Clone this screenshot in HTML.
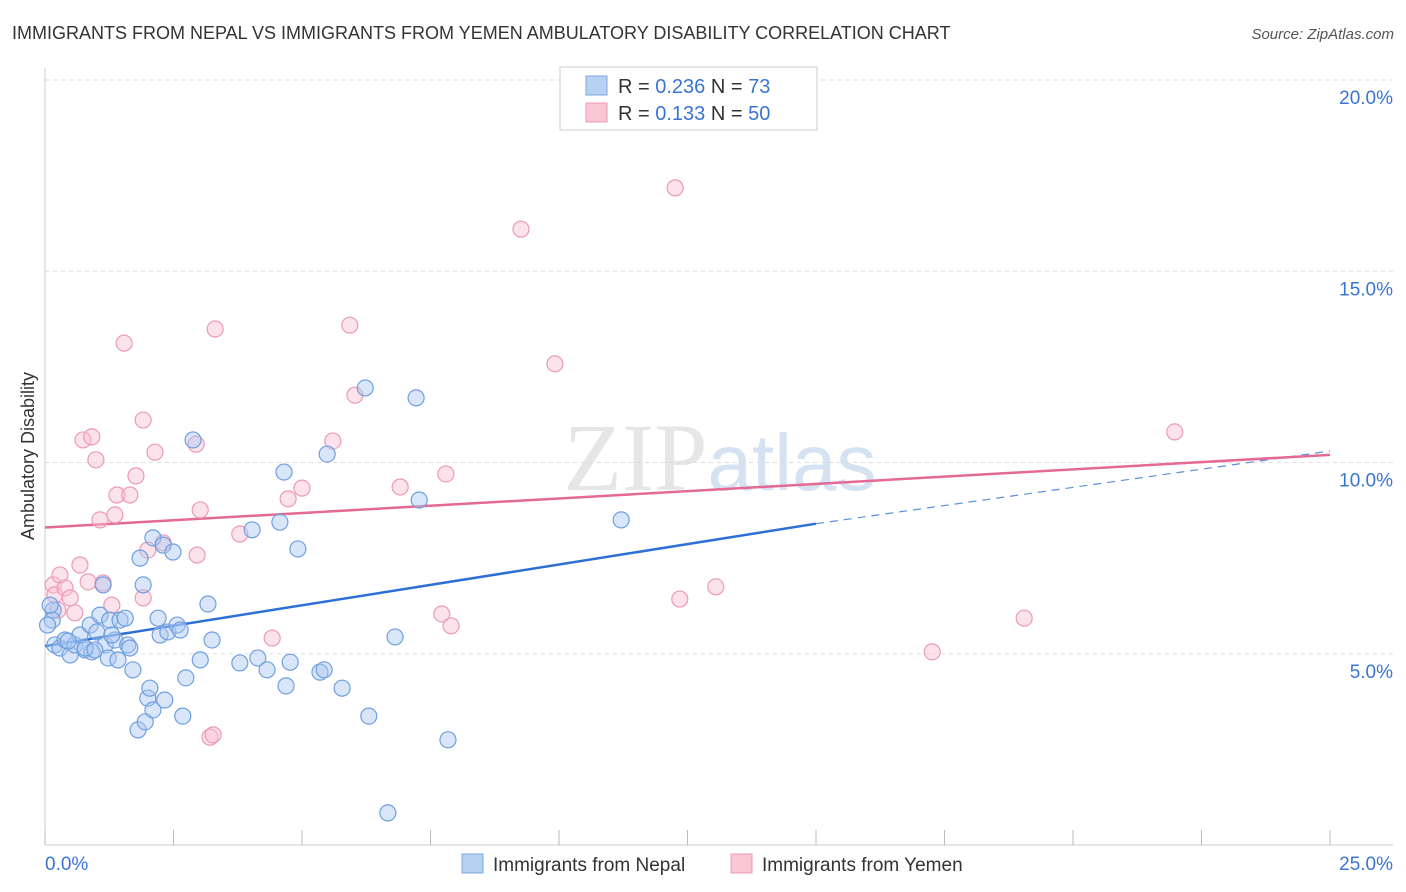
<!DOCTYPE html>
<html><head><meta charset="utf-8"><style>
body{margin:0;background:#fff;font-family:"Liberation Sans",sans-serif}
svg{display:block}
</style></head><body>
<svg width="1406" height="892" viewBox="0 0 1406 892">
<text x="12" y="39" font-size="18" fill="#333">IMMIGRANTS FROM NEPAL VS IMMIGRANTS FROM YEMEN AMBULATORY DISABILITY CORRELATION CHART</text>
<text x="1394" y="39" font-size="15" fill="#555" font-style="italic" text-anchor="end">Source: ZipAtlas.com</text>
<text x="720" y="490" font-size="96" fill="#e6e6e6" text-anchor="middle" font-family="Liberation Serif,serif">ZIP<tspan fill="#d5e2f2" font-family="Liberation Sans,sans-serif" font-size="80">atlas</tspan></text>
<g id="grid"></g>
<g id="axes"></g>
<g id="lines"></g>
<g id="pts"></g>
<text transform="translate(34,456) rotate(-90)" font-size="18" fill="#333" text-anchor="middle">Ambulatory Disability</text>
<g>
<rect x="560" y="67" width="257" height="63" fill="#fff" stroke="#ccc"/>
<rect x="586" y="76" width="21" height="19" fill="#b8d1f3" stroke="#7ea7e0"/>
<rect x="586" y="103" width="21" height="19" fill="#f9c6d5" stroke="#ec9ab4"/>
<text x="618" y="93" font-size="20" fill="#333">R = <tspan fill="#3a75d4">0.236</tspan>   N = <tspan fill="#3a75d4">73</tspan></text>
<text x="618" y="120" font-size="20" fill="#333">R =  <tspan fill="#3a75d4">0.133</tspan>   N = <tspan fill="#3a75d4">50</tspan></text>
</g>
<g>
<rect x="462" y="854" width="21" height="19" fill="#b8d1f3" stroke="#7ea7e0"/>
<text x="493" y="871" font-size="19" fill="#333">Immigrants from Nepal</text>
<rect x="731" y="854" width="21" height="19" fill="#f9c6d5" stroke="#ec9ab4"/>
<text x="762" y="871" font-size="19" fill="#333">Immigrants from Yemen</text>
</g>
</svg>
<script>
const yTicks=[5,10,15,20];
const yTickLabels=["5.0%","10.0%","15.0%","20.0%"];
const xTickVals=[0,2.5,5,7.5,10,12.5,15,17.5,20,22.5,25];
const nepalX=[.16,.14,.19,.29,.39,.49,.58,.68,.78,.88,.91,1.01,1.07,1.13,1.17,1.23,1.26,1.36,1.42,1.46,1.56,1.61,1.71,1.81,1.85,1.91,1.95,2.00,2.04,2.10,2.10,2.20,2.24,2.30,2.33,2.39,2.49,2.57,2.63,2.68,2.74,2.88,3.02,3.17,3.25,3.79,4.03,4.14,4.32,4.57,4.65,4.69,4.77,4.92,5.35,5.43,5.49,5.78,6.23,6.30,6.67,6.81,7.22,7.28,7.84,11.21,.78,.45,.97,1.30,1.65,.10,.05];
const nepalY=[6.14,5.88,5.23,5.15,5.36,4.97,5.23,5.49,5.10,5.75,5.05,5.57,6.01,6.80,5.23,4.89,5.88,5.36,4.84,5.88,5.93,5.23,4.58,3.01,7.50,6.80,3.22,3.84,4.10,8.03,3.53,5.93,5.49,7.84,3.79,5.57,7.66,5.75,5.62,3.37,4.37,10.59,4.84,6.30,5.36,4.76,8.24,4.89,4.58,8.44,9.75,4.16,4.78,7.74,4.52,4.58,10.22,4.10,11.95,3.37,0.84,5.44,11.69,9.02,2.75,8.50,5.15,5.33,5.10,5.49,5.15,6.27,5.75];
const yemenX=[.16,.19,.25,.29,.39,.49,.58,.68,.74,.84,.91,.99,1.07,1.13,1.30,1.36,1.40,1.54,1.65,1.77,1.91,2.00,2.14,2.30,2.94,2.96,3.02,3.21,3.27,3.31,3.79,4.42,4.73,5.00,5.60,5.93,6.03,6.91,7.72,7.80,7.90,9.26,9.92,12.26,12.35,13.05,17.26,19.05,21.98,1.91];
const yemenY=[6.80,6.54,6.14,7.06,6.72,6.46,6.07,7.32,10.59,6.88,10.67,10.07,8.50,6.85,6.27,8.63,9.15,13.12,9.15,9.65,11.11,7.71,10.27,7.90,10.48,7.58,8.76,2.82,2.88,13.49,8.13,5.41,9.05,9.33,10.56,13.59,11.76,9.36,6.04,9.70,5.73,16.10,12.58,17.18,6.43,6.75,5.05,5.93,10.80,6.46];
const nepalTrend=[5.2,8.4,10.3];
const yemenTrend=[8.3,10.2];
const trendX=[0,15,25];
const NS="http://www.w3.org/2000/svg";
const sx=v=>45+v*51.4, sy=v=>845-v*38.25;
function mk(t,a,p){const e=document.createElementNS(NS,t);for(const k in a)e.setAttribute(k,a[k]);document.getElementById(p).appendChild(e);return e;}
yTicks.forEach((t,i)=>{
 const g=mk('line',{x1:45,x2:1393,y1:sy(t),y2:sy(t),stroke:'#ddd','stroke-dasharray':'4,4'},'grid');
 
 
 const l=mk('text',{x:1393,y:sy(t)+24,'font-size':19,fill:'#3a75d4','text-anchor':'end'},'axes');
 l.textContent=yTickLabels[i];
 
 
});
const ax=mk('line',{x1:45,x2:45,y1:68,y2:845,stroke:'#ccc'},'axes');


const bx=mk('line',{x1:45,x2:1393,y1:845,y2:845,stroke:'#ccc'},'axes');


xTickVals.forEach(v=>{
 const t=mk('line',{x1:sx(v),x2:sx(v),y1:830,y2:845,stroke:'#bbb'},'axes');
 
 
});
const xl0=mk('text',{x:45,y:870,'font-size':19,fill:'#3a75d4'},'axes');xl0.textContent='0.0%';


const xl1=mk('text',{x:1393,y:870,'font-size':19,fill:'#3a75d4','text-anchor':'end'},'axes');xl1.textContent='25.0%';


function dot(x,y,f,s,nm){const c=mk('circle',{cx:sx(x),cy:sy(y),r:8,fill:f,stroke:s,'stroke-width':1.2},'pts');
 
 }
yemenX.forEach((x,i)=>dot(x,yemenY[i],'rgba(249,190,210,0.45)','#ec9ab4','yemen-point'));
nepalX.forEach((x,i)=>dot(x,nepalY[i],'rgba(170,200,242,0.45)','#6f9fe0','nepal-point'));
const bl=mk('line',{x1:sx(trendX[0]),y1:sy(nepalTrend[0]),x2:sx(trendX[1]),y2:sy(nepalTrend[1]),stroke:'#2c6fd6','stroke-width':2.5},'lines');


const bd=mk('line',{x1:sx(trendX[1]),y1:sy(nepalTrend[1]),x2:sx(trendX[2]),y2:sy(nepalTrend[2]),stroke:'#5a8fdc','stroke-width':1.2,'stroke-dasharray':'8,6'},'lines');


const pl=mk('line',{x1:sx(trendX[0]),y1:sy(yemenTrend[0]),x2:sx(trendX[2]),y2:sy(yemenTrend[1]),stroke:'#e46a95','stroke-width':2.5},'lines');


</script>
</body></html>
